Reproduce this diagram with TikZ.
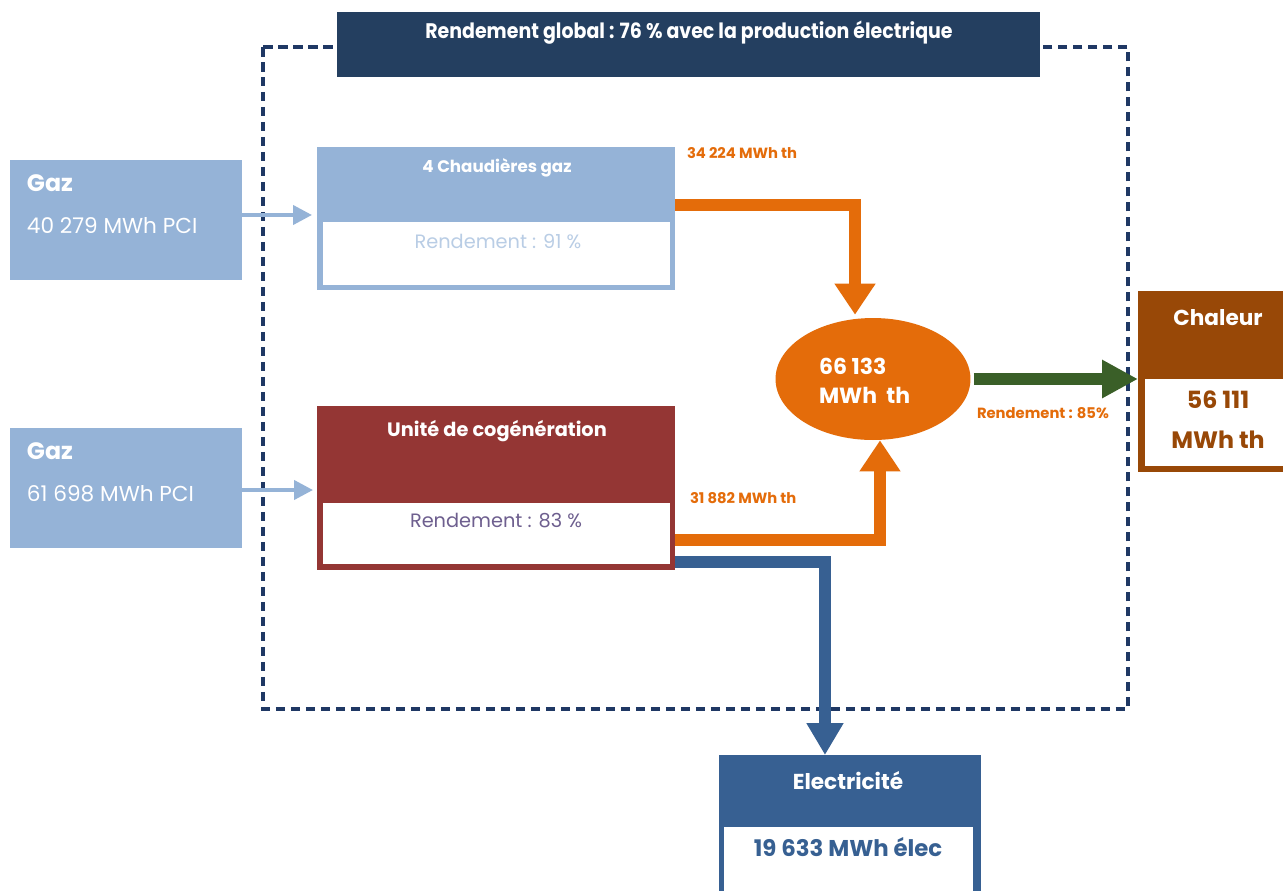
\documentclass[tikz,border=0pt]{standalone}
\usepackage{fontspec}
\setmainfont{Poppins}
\usetikzlibrary{arrows.meta,calc,shapes.geometric}
\definecolor{gazblue}{HTML}{95B3D7}
\definecolor{lightblue}{HTML}{B9CDE5}
\definecolor{cogred}{HTML}{943634}
\definecolor{purplegrey}{HTML}{6E5F8F}
\definecolor{heatbrown}{HTML}{984807}
\definecolor{elecblue}{HTML}{376092}
\definecolor{navy}{HTML}{243F60}
\definecolor{dashnavy}{HTML}{1F3864}
\definecolor{flowor}{HTML}{E46C0A}
\definecolor{flowgreen}{HTML}{3A5F28}
\tikzset{
  box/.style={anchor=north west, inner sep=0pt, outer sep=0pt},
  txt/.style={inner sep=0pt, outer sep=0pt},
  gazarrow/.style={draw=gazblue, line width=0.08cm, -{Triangle[width=0.38cm,length=0.38cm]}},
  orflow/.style={draw=flowor, line width=0.24cm, -{Triangle[width=0.78cm,length=0.62cm]}},
  blflow/.style={draw=elecblue, line width=0.23cm, -{Triangle[width=0.7cm,length=0.64cm]}},
  grflow/.style={draw=flowgreen, line width=0.24cm, -{Triangle[width=0.72cm,length=0.72cm]}},
  gazt/.style={font=\fontsize{13.5}{16}\selectfont\bfseries},
  gazv/.style={font=\fontsize{12.3}{15}\selectfont},
  rend/.style={font=\fontsize{11}{13}\selectfont},
  small/.style={font=\fontsize{8.4}{10}\selectfont\bfseries, text=flowor},
  outt/.style={font=\fontsize{12.3}{15}\selectfont\bfseries},
}
\begin{document}
\begin{tikzpicture}[x=0.02cm,y=-0.02cm]
\useasboundingbox[fill=white] (0,0) rectangle (1283,890);

% dashed frame
\draw[dashnavy, line width=0.065cm, dash pattern=on 0.19cm off 0.11cm] (263,47) rectangle (1128,709);

% banner
\node[box, fill=navy, minimum width=14.06cm, minimum height=1.3cm] (banner) at (337,12) {};
\node[txt, text=white, font=\fontsize{12}{14}\selectfont\bfseries] (bannertxt) at (689,33) {\scalebox{0.9}[1]{Rendement global : 76 \% avec la production électrique}};

% gaz boxes
\node[box, fill=gazblue, minimum width=4.64cm, minimum height=2.4cm] (gaz1) at (10,160) {};
\node[txt, anchor=west, text=white, gazt] (gaz1t) at (27,183) {Gaz};
\node[txt, anchor=west, text=white, gazv] (gaz1v) at (27,226) {40 279 MWh PCI};
\node[box, fill=gazblue, minimum width=4.64cm, minimum height=2.4cm] (gaz2) at (10,428) {};
\node[txt, anchor=west, text=white, gazt] (gaz2t) at (27,451) {Gaz};
\node[txt, anchor=west, text=white, gazv] (gaz2v) at (27,494) {61 698 MWh PCI};

% chaudieres
\node[box, fill=gazblue, minimum width=7.16cm, minimum height=2.86cm] (chaud) at (317,147) {};
\node[box, fill=white, minimum width=6.94cm, minimum height=1.26cm] (chaudin) at (323,222) {};
\node[txt, text=white, font=\fontsize{9.5}{11}\selectfont\bfseries] (chaudt) at (497,168) {4 Chaudières gaz};
\node[txt, text=lightblue, rend] (chaudr) at (498,241) {Rendement : 91 \%};

% cogeneration
\node[box, fill=cogred, minimum width=7.16cm, minimum height=3.28cm] (cogen) at (317,406) {};
\node[box, fill=white, minimum width=6.94cm, minimum height=1.22cm] (cogenin) at (323,503) {};
\node[txt, text=white, font=\fontsize{11}{13}\selectfont\bfseries] (cogent) at (497,431) {Unité de cogénération};
\node[txt, text=purplegrey, rend] (cogenr) at (496,521) {Rendement : 83 \%};

% ellipse
\node[ellipse, fill=flowor, minimum width=3.9cm, minimum height=2.44cm, inner sep=0pt] (ell) at (873,379) {};
\node[txt, anchor=west, text=white, align=left, font=\fontsize{12.5}{16.5}\selectfont\bfseries] (ellt) at (819,381) {66 133\\MWh\ \ th};

% chaleur
\node[box, fill=heatbrown, minimum width=3.2cm, minimum height=3.62cm] (chaleur) at (1138,291) {};
\node[box, fill=white, minimum width=3.0cm, minimum height=1.74cm] (chaleurin) at (1145,379) {};
\node[txt, text=white, outt] (chaleurt) at (1218,318) {Chaleur};
\node[txt, text=heatbrown, font=\fontsize{13.5}{16}\selectfont\bfseries] (chaleurv1) at (1218,400) {56 111};
\node[txt, text=heatbrown, font=\fontsize{13.5}{16}\selectfont\bfseries] (chaleurv2) at (1218,440) {MWh th};

% electricite
\node[box, fill=elecblue, minimum width=5.24cm, minimum height=3cm] (elec) at (719,755) {};
\node[box, fill=white, minimum width=4.98cm, minimum height=2cm] (elecin) at (724,827) {};
\node[txt, text=white, outt] (elect) at (848,781) {Electricité};
\node[txt, text=elecblue, font=\fontsize{13}{15}\selectfont\bfseries] (elecv) at (848,847) {19 633 MWh élec};

% labels
\node[txt, anchor=west, small] (l1) at (687,153) {34 224 MWh th};
\node[txt, anchor=west, small] (l2) at (690,498) {31 882 MWh th};
\node[txt, anchor=west, small] (l3) at (977,413) {Rendement : 85\%};

% arrows
\draw[gazarrow, shorten >=0.1cm] ([yshift=0.1cm]gaz1.east) -- ([yshift=0.1cm]gaz1.east -| chaud.west);
\draw[gazarrow, shorten >=0.08cm] ([yshift=-0.04cm]gaz2.east) -- ([yshift=-0.04cm]gaz2.east -| cogen.west);
\draw[orflow] ($(chaud.north east)+(0,58)$) -| ([xshift=-0.36cm,yshift=0.06cm]ell.north);
\draw[orflow] ($(cogen.north east)+(0,134)$) -| ([xshift=0.14cm]ell.south);
\draw[blflow] ($(cogen.north east)+(0,156)$) -| ([xshift=-0.5cm]elec.north);
\draw[grflow] ([xshift=0.06cm]ell.east) -- (chaleur.west |- ell.east);
\end{tikzpicture}
\end{document}
